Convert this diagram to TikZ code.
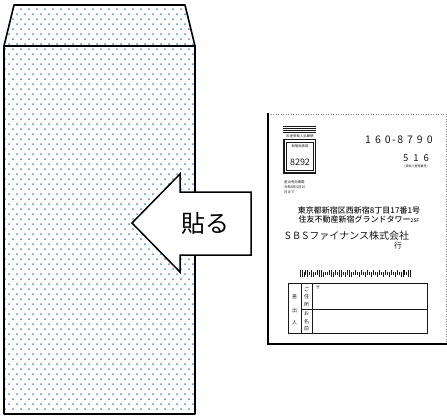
\documentclass[tikz,border=0pt]{standalone}
\usepackage{fontspec}
\setmainfont{Noto Sans CJK JP}
\newfontfamily\jp{Noto Sans CJK JP}
\newfontfamily\jpm{Noto Sans CJK JP Medium}
\definecolor{dotblue}{RGB}{75,140,210}
\definecolor{cardgray}{RGB}{25,25,25}
\tikzset{
  envline/.style={line width=1.6pt, black, line join=round},
  arrowshape/.style={line width=1.5pt, black, fill=white, line join=miter},
  tinytxt/.style={font=\jp\fontsize{3.4}{4}\selectfont, inner sep=0pt, text=cardgray},
  smalltxt/.style={font=\jp\fontsize{7.8}{9}\selectfont, inner sep=0pt, text=cardgray},
  tbl/.style={line width=0.7pt, cardgray},
  bar/.style={line width=0.9pt, cardgray},
}
\begin{document}
\begin{tikzpicture}[x=1pt,y=-1pt]
\useasboundingbox (0,0) rectangle (447,416);
% ---------- envelope ----------
\begin{scope}
  \clip (14,5) -- (185,5) -- (195,46) -- (195,414) -- (4,414) -- (4,46) -- cycle;
  \fill[dotblue] \foreach \r in {0,...,83} {
     \foreach \c in {0,...,24} {
       ({1+\c*8+mod(\r,2)*4},{4+\r*5}) circle (1.0)
     }
  };
\end{scope}
\draw[envline] (4,46) -- (14,5) -- (185,5) -- (195,46);
\draw[envline] (4,46) rectangle (195,414);
% ---------- arrow ----------
\draw[arrowshape] (132,223) -- (180,174) -- (180,192) -- (251,192) -- (251,255) -- (180,255) -- (180,272) -- cycle;
\node[font=\jp\fontsize{24}{26}\selectfont, inner sep=0pt] (harulabel) at (205,223) {貼る};
% ---------- card ----------
\draw[gray, line width=0.5pt, dotted] (268,114) -- (446,114) -- (446,343);
\draw[black, line width=2.4pt] (268,113) -- (268,344) -- (447,344);
% bars
\foreach \yy in {126,128.3,130.6,132.9} \draw[cardgray, line width=1pt] (283,\yy) -- (316,\yy);
\node[tinytxt] (ryokin) at (300,136.5) {料金受取人払郵便};
\draw[cardgray, line width=1.1pt] (284,139.5) rectangle (315.5,173);
\draw[cardgray, line width=0.5pt] (286.5,142) rectangle (313,170.5);
\node[tinytxt] (shonin) at (300,146.5) {新宿局承認};
\node[font=\jp\fontsize{9}{9}\selectfont, inner sep=0pt, text=cardgray] (num8292) at (300,162.5) {8292};
\node[tinytxt, anchor=west] (yuko1) at (284,182) {差出有効期間};
\node[tinytxt, anchor=west] (yuko2) at (284,187) {令和8年5月15};
\node[tinytxt, anchor=west] (yuko3) at (284,192) {日まで};
\node[font=\jp\fontsize{10.5}{11}\selectfont, inner sep=0pt, text=cardgray, anchor=west] (zip) at (365,140)
  {1\hspace{4pt}6\hspace{4pt}0\hspace{1.5pt}-\hspace{1.5pt}8\hspace{4pt}7\hspace{4pt}9\hspace{4pt}0};
\node[font=\jp\fontsize{9.5}{10}\selectfont, inner sep=0pt, text=cardgray, anchor=west] (num516) at (403,158)
  {5\hspace{5pt}1\hspace{5pt}6};
\node[tinytxt, font=\jp\fontsize{3}{3.5}\selectfont] (uketori) at (416,167) {(受取人整理番号)};
\node[smalltxt, font=\jpm\fontsize{8}{9}\selectfont] (addr1) at (359,210) {東京都新宿区西新宿8丁目17番1号};
\node[smalltxt, font=\jpm\fontsize{8}{9}\selectfont] (addr2) at (359,219) {住友不動産新宿グランドタワー{\fontsize{5}{6}\selectfont 25F}};
\node[font=\jp\fontsize{10}{10}\selectfont, inner sep=0pt, text=cardgray] (company) at (347,236)
  {S\hspace{2.5pt}B\hspace{2.5pt}S\hspace{1pt}ファイナンス株式会社};
\node[smalltxt] (iku) at (398,246) {行};
% customer barcode
\foreach \t [count=\i] in {1,1,3,2,1,4,1,3,4,2,1,1,3,4,4,2,1,3,2,4,1,1,4,3,2,1,3,4,2,4,3,2,4,3,2,4,3,2,4,3,2,4,3,2,4,3,2,4,3,2,4,3,1,2,4,1,1} {
  \pgfmathsetmacro{\xx}{300+(\i-1)*1.98}
  \ifcase\t\or
    \draw[bar] (\xx,269.5) -- (\xx,276.5);
  \or
    \draw[bar] (\xx,269.5) -- (\xx,274.5);
  \or
    \draw[bar] (\xx,271.5) -- (\xx,276.5);
  \or
    \draw[bar] (\xx,271.5) -- (\xx,274.5);
  \fi
}
% table
\draw[tbl] (288,283) rectangle (427,333);
\draw[tbl] (301,283) -- (301,333);
\draw[tbl] (312,283) -- (312,333);
\draw[tbl] (301,309) -- (427,309);
\node[tinytxt, font=\jp\fontsize{5}{6}\selectfont] (sa) at (294.5,297) {差};
\node[tinytxt, font=\jp\fontsize{5}{6}\selectfont] (de) at (294.5,311) {出};
\node[tinytxt, font=\jp\fontsize{5}{6}\selectfont] (nin) at (294.5,323) {人};
\node[tinytxt, font=\jp\fontsize{5}{6}\selectfont] (go) at (306.5,289) {ご};
\node[tinytxt, font=\jp\fontsize{5}{6}\selectfont] (ju) at (306.5,297) {住};
\node[tinytxt, font=\jp\fontsize{5}{6}\selectfont] (sho) at (306.5,305) {所};
\node[tinytxt, font=\jp\fontsize{5}{6}\selectfont] (o) at (306.5,314) {お};
\node[tinytxt, font=\jp\fontsize{5}{6}\selectfont] (na) at (306.5,321.5) {名};
\node[tinytxt, font=\jp\fontsize{5}{6}\selectfont] (mae) at (306.5,328.5) {前};
\node[tinytxt, font=\jp\fontsize{4.5}{5}\selectfont] (yubin) at (318,287.5) {〒};
\end{tikzpicture}
\end{document}
